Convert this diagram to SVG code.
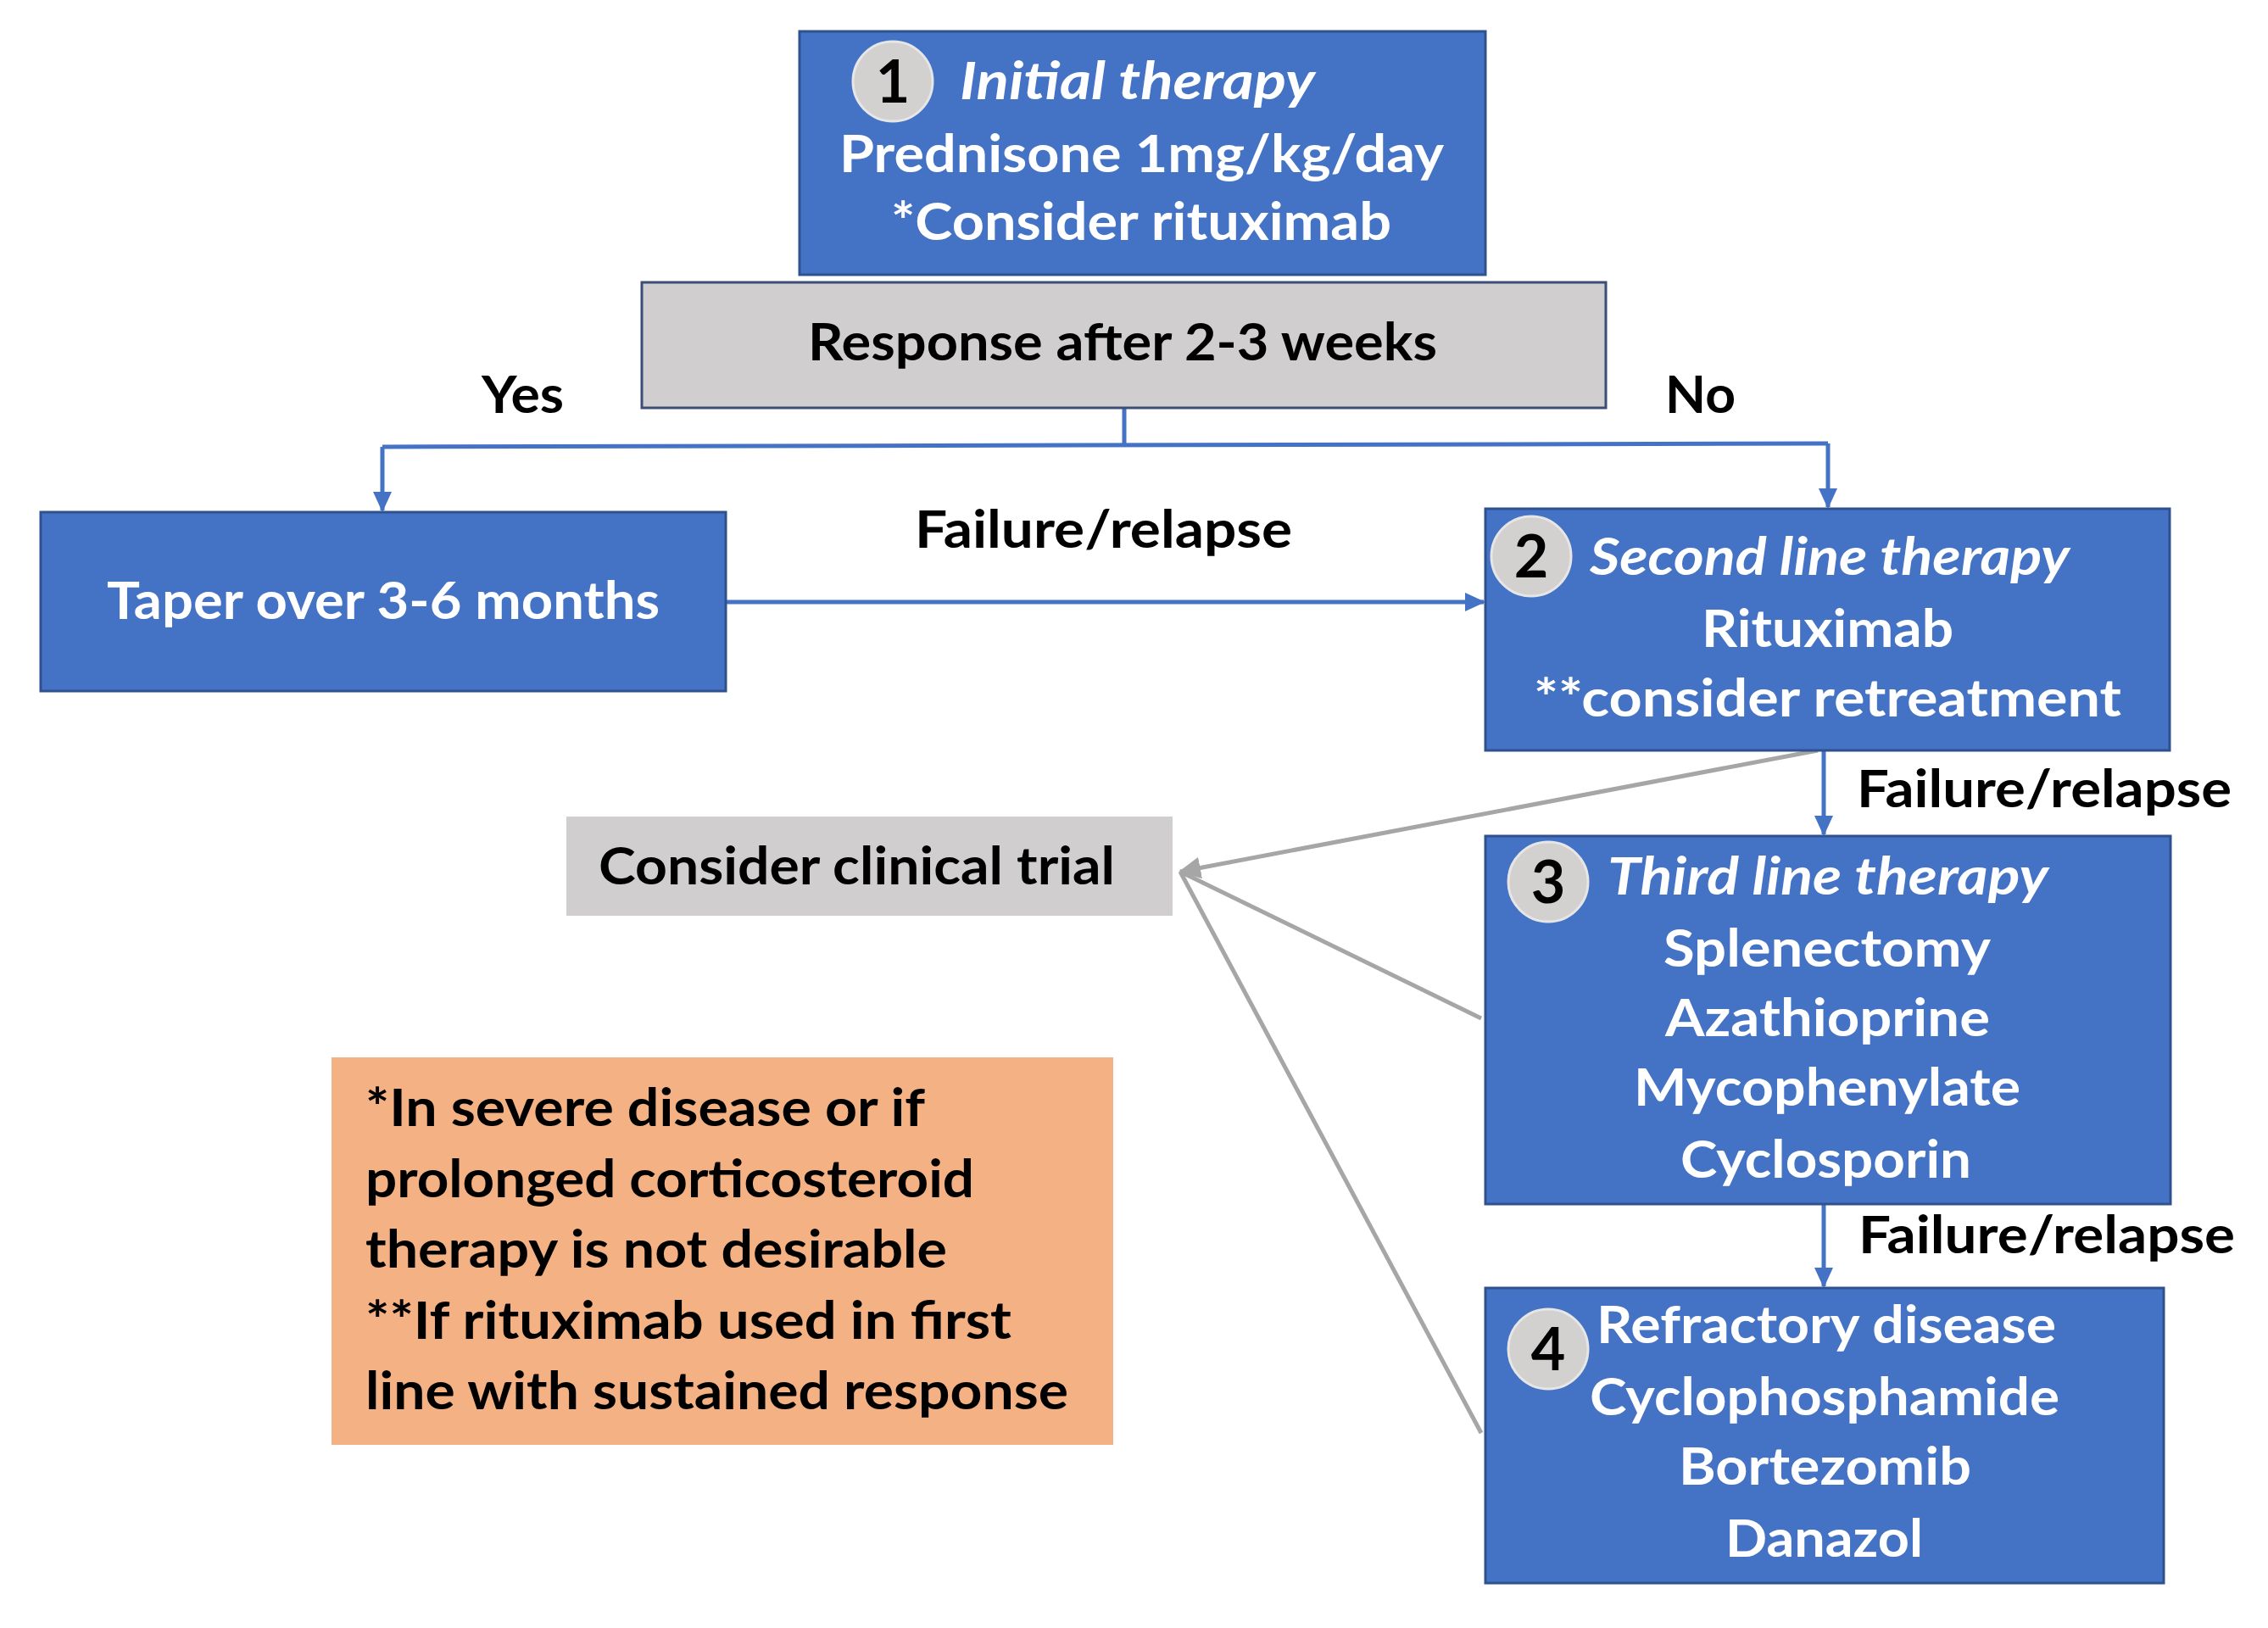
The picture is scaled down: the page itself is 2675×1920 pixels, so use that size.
<svg xmlns="http://www.w3.org/2000/svg" width="2675" height="1920" viewBox="0 0 2675 1920">
<defs>
<style>
.box{fill:#4472C4;stroke:#2F528F;stroke-width:3}
.gbox{fill:#D0CECE;stroke:#3B4E78;stroke-width:3}
.trial{fill:#D0CECE}
.note{fill:#F4B183}
.num{fill:#D3D0D0;stroke:#E6E6E6;stroke-width:3}
text{font-family:Lato,"Open Sans","Liberation Sans",sans-serif;font-weight:bold;font-size:62px}
.w{fill:#FFFFFF}
.k{fill:#000000}
.it{font-style:italic}
.d{font-size:70px;text-anchor:middle;fill:#000000}
.blue{stroke:#4472C4;stroke-width:5;fill:none}
.grey{stroke:#A6A6A6;stroke-width:5;fill:none}
</style>
<marker id="ab" markerUnits="userSpaceOnUse" markerWidth="24" markerHeight="22" refX="22" refY="11" orient="auto">
<path d="M0,0 L24,11 L0,22 Z" fill="#4472C4"/>
</marker>
<marker id="ag" markerUnits="userSpaceOnUse" markerWidth="26" markerHeight="26" refX="24" refY="13" orient="auto">
<path d="M0,0 L26,13 L0,26 Z" fill="#A6A6A6"/>
</marker>
</defs>
<rect width="2675" height="1920" fill="#FFFFFF"/>

<g id="connectors">
<path class="blue" d="M1326,481 L1326,526"/>
<path class="blue" d="M451,527 L2156,523"/>
<path class="blue" d="M451,527 L451,602" marker-end="url(#ab)"/>
<path class="blue" d="M2156,523 L2156,598" marker-end="url(#ab)"/>
<path class="blue" d="M856,710 L1750,710" marker-end="url(#ab)"/>
<path class="blue" d="M2151,885 L2151,984" marker-end="url(#ab)"/>
<path class="blue" d="M2151,1420 L2151,1517" marker-end="url(#ab)"/>
<path class="grey" d="M2144,885 L1392,1028" marker-end="url(#ag)"/>
<path class="grey" d="M1747,1201 L1392,1028"/>
<path class="grey" d="M1747,1690 L1392,1028"/>
<text class="k" x="568" y="487" textLength="97" lengthAdjust="spacingAndGlyphs">Yes</text>
<text class="k" x="1964" y="487" textLength="83" lengthAdjust="spacingAndGlyphs">No</text>
<text class="k" x="1079" y="646" textLength="445" lengthAdjust="spacingAndGlyphs">Failure/relapse</text>
<text class="k" x="2190" y="952" textLength="442" lengthAdjust="spacingAndGlyphs">Failure/relapse</text>
<text class="k" x="2192" y="1478" textLength="444" lengthAdjust="spacingAndGlyphs">Failure/relapse</text>
</g>

<g id="node-initial">
<rect class="box" x="943" y="37" width="809" height="287"/>
<circle class="num" cx="1053" cy="96" r="47"/>
<text class="d" x="1053" y="121">1</text>
<text class="w it" x="1132" y="117" textLength="419" lengthAdjust="spacingAndGlyphs">Initial therapy</text>
<text class="w" x="990" y="203" textLength="713" lengthAdjust="spacingAndGlyphs">Prednisone 1mg/kg/day</text>
<text class="w" x="1051" y="283" textLength="590" lengthAdjust="spacingAndGlyphs">*Consider rituximab</text>
</g>

<g id="node-response">
<rect class="gbox" x="757" y="333" width="1137" height="148"/>
<text class="k" x="953" y="425" textLength="742" lengthAdjust="spacingAndGlyphs">Response after 2-3 weeks</text>
</g>

<g id="node-taper">
<rect class="box" x="48" y="604" width="808" height="211"/>
<text class="w" x="126" y="730" textLength="652" lengthAdjust="spacingAndGlyphs">Taper over 3-6 months</text>
</g>

<g id="node-second">
<rect class="box" x="1752" y="600" width="807" height="285"/>
<circle class="num" cx="1806" cy="656" r="47"/>
<text class="d" x="1806" y="681">2</text>
<text class="w it" x="1875" y="678" textLength="566" lengthAdjust="spacingAndGlyphs">Second line therapy</text>
<text class="w" x="2007" y="763" textLength="297" lengthAdjust="spacingAndGlyphs">Rituximab</text>
<text class="w" x="1809" y="845" textLength="693" lengthAdjust="spacingAndGlyphs">**consider retreatment</text>
</g>

<g id="node-trial">
<rect class="trial" x="668" y="963" width="715" height="117"/>
<text class="k" x="706" y="1043" textLength="609" lengthAdjust="spacingAndGlyphs">Consider clinical trial</text>
</g>

<g id="node-third">
<rect class="box" x="1752" y="986" width="808" height="434"/>
<circle class="num" cx="1826" cy="1040" r="47"/>
<text class="d" x="1826" y="1065">3</text>
<text class="w it" x="1896" y="1055" textLength="520" lengthAdjust="spacingAndGlyphs">Third line therapy</text>
<text class="w" x="1962" y="1140" textLength="386" lengthAdjust="spacingAndGlyphs">Splenectomy</text>
<text class="w" x="1964" y="1222" textLength="383" lengthAdjust="spacingAndGlyphs">Azathioprine</text>
<text class="w" x="1927" y="1304" textLength="456" lengthAdjust="spacingAndGlyphs">Mycophenylate</text>
<text class="w" x="1982" y="1389" textLength="343" lengthAdjust="spacingAndGlyphs">Cyclosporin</text>
</g>

<g id="node-refractory">
<rect class="box" x="1752" y="1519" width="800" height="348"/>
<circle class="num" cx="1826" cy="1591" r="47"/>
<text class="d" x="1826" y="1616">4</text>
<text class="w" x="1883" y="1584" textLength="542" lengthAdjust="spacingAndGlyphs">Refractory disease</text>
<text class="w" x="1875" y="1669" textLength="554" lengthAdjust="spacingAndGlyphs">Cyclophosphamide</text>
<text class="w" x="1980" y="1751" textLength="345" lengthAdjust="spacingAndGlyphs">Bortezomib</text>
<text class="w" x="2035" y="1836" textLength="233" lengthAdjust="spacingAndGlyphs">Danazol</text>
</g>

<g id="node-note">
<rect class="note" x="391" y="1247" width="922" height="457"/>
<text class="k" x="431" y="1328" textLength="660" lengthAdjust="spacingAndGlyphs">*In severe disease or if</text>
<text class="k" x="431" y="1412" textLength="718" lengthAdjust="spacingAndGlyphs">prolonged corticosteroid</text>
<text class="k" x="431" y="1495" textLength="686" lengthAdjust="spacingAndGlyphs">therapy is not desirable</text>
<text class="k" x="431" y="1579" textLength="762" lengthAdjust="spacingAndGlyphs">**If rituximab used in first</text>
<text class="k" x="431" y="1662" textLength="829" lengthAdjust="spacingAndGlyphs">line with sustained response</text>
</g>
</svg>
